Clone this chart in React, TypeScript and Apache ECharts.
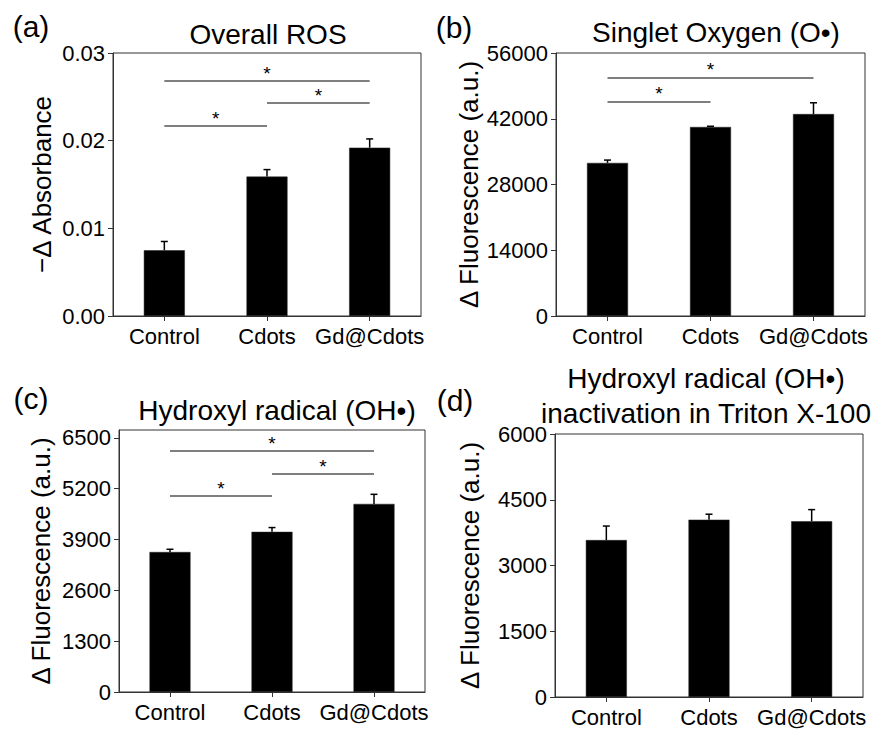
import React, { useEffect, useRef } from "react";
import * as echarts from "echarts";

const categories = ["Control", "Cdots", "Gd@Cdots"];

const rosMean = [0.0075, 0.0159, 0.0192];
const rosErr = [0.001, 0.0008, 0.001];
const rosTicks = [0, 0.01, 0.02, 0.03];
const rosTickLabels = ["0.00", "0.01", "0.02", "0.03"];
const rosSig = [
  [0, 2, 0.0268],
  [1, 2, 0.0243],
  [0, 1, 0.0217],
];

const singletMean = [32600, 40250, 43000];
const singletErr = [600, 150, 2400];
const singletTicks = [0, 14000, 28000, 42000, 56000];
const singletSig = [
  [0, 2, 50800],
  [0, 1, 45700],
];

const hydroxylMean = [3580, 4095, 4810];
const hydroxylErr = [70, 110, 245];
const hydroxylTicks = [0, 1300, 2600, 3900, 5200, 6500];
const hydroxylMax = 6700;
const hydroxylSig = [
  [0, 2, 6170],
  [1, 2, 5580],
  [0, 1, 5015],
];

const tritonMean = [3580, 4045, 4010];
const tritonErr = [320, 125, 265];
const tritonTicks = [0, 1500, 3000, 4500, 6000];

const FONT = "Arial, 'Liberation Sans', sans-serif";

const panels = [
  { mean: rosMean, err: rosErr, ticks: rosTicks, labels: rosTickLabels, max: 0.03, sig: rosSig, name: "\u2212\u0394 Absorbance", gap: 58, grid: { left: 113, top: 53, width: 308, height: 263 } },
  { mean: singletMean, err: singletErr, ticks: singletTicks, labels: null, max: 56000, sig: singletSig, name: "\u0394 Fluorescence (a.u.)", gap: 74, grid: { left: 556, top: 53, width: 309, height: 263 } },
  { mean: hydroxylMean, err: hydroxylErr, ticks: hydroxylTicks, labels: null, max: hydroxylMax, sig: hydroxylSig, name: "\u0394 Fluorescence (a.u.)", gap: 65, grid: { left: 119, top: 430, width: 306, height: 262 } },
  { mean: tritonMean, err: tritonErr, ticks: tritonTicks, labels: null, max: 6000, sig: [], name: "\u0394 Fluorescence (a.u.)", gap: 72, grid: { left: 555, top: 434, width: 308, height: 263 } },
];

export default function App() {
  const ref = useRef<HTMLDivElement>(null);
  useEffect(() => {
    document.body.style.margin = "0";
    const chart = echarts.init(ref.current!, null, { renderer: "svg" });
    const grids: any[] = [];
    const xAxes: any[] = [];
    const yAxes: any[] = [];
    const series: any[] = [];
    panels.forEach((p, i) => {
      grids.push({ ...p.grid, show: true, borderColor: "#333", borderWidth: 1, backgroundColor: "transparent" });
      xAxes.push({
        type: "category",
        gridIndex: i,
        data: categories,
        axisLine: { show: true, lineStyle: { color: "#333", width: 1 } },
        axisTick: { show: true, alignWithLabel: true, length: 5, lineStyle: { color: "#333" } },
        axisLabel: { color: "#000", fontSize: 22, fontFamily: FONT, margin: 9, interval: 0 },
        splitLine: { show: false },
      });
      const labels = p.labels;
      yAxes.push({
        type: "value",
        gridIndex: i,
        min: 0,
        max: p.max,
        name: p.name,
        nameLocation: "middle",
        nameGap: p.gap,
        nameRotate: 90,
        nameTextStyle: { color: "#000", fontSize: 26, fontFamily: FONT },
        axisLine: { show: true, lineStyle: { color: "#333", width: 1 } },
        axisTick: { show: true, length: 5, lineStyle: { color: "#333" }, customValues: p.ticks },
        axisLabel: {
          color: "#000",
          fontSize: 22,
          fontFamily: FONT,
          margin: 8,
          customValues: p.ticks,
          formatter: (v: number) => {
            if (labels) {
              const k = p.ticks.findIndex((t) => Math.abs(t - v) < 1e-9);
              return k >= 0 ? labels[k] : "";
            }
            return String(v);
          },
        },
        splitLine: { show: false },
      });
      series.push({
        type: "bar",
        xAxisIndex: i,
        yAxisIndex: i,
        data: p.mean,
        barWidth: 41,
        itemStyle: { color: "#000", borderColor: "#222", borderWidth: 0.5 },
        markLine: {
          silent: true,
          symbol: "none",
          lineStyle: { color: "#555", width: 1.5, type: "solid" },
          label: { show: true, position: "middle", formatter: "*", color: "#000", fontSize: 19, fontFamily: FONT, distance: -2 },
          emphasis: { disabled: true },
          data: p.sig.map((s) => [{ coord: [s[0], s[2]] }, { coord: [s[1], s[2]] }]),
        },
      });
      series.push({
        type: "custom",
        xAxisIndex: i,
        yAxisIndex: i,
        z: 5,
        data: p.mean.map((m, k) => [k, m, p.err[k]]),
        encode: { x: 0, y: 1 },
        renderItem: (params: any, api: any) => {
          const x = api.value(0);
          const m = api.value(1);
          const e = api.value(2);
          const p0 = api.coord([x, m]);
          const p1 = api.coord([x, m + e]);
          const style = { stroke: "#000", lineWidth: 1.5 };
          return {
            type: "group",
            children: [
              { type: "line", shape: { x1: p0[0], y1: p0[1], x2: p1[0], y2: p1[1] }, style },
              { type: "line", shape: { x1: p1[0] - 3.5, y1: p1[1], x2: p1[0] + 3.5, y2: p1[1] }, style },
            ],
          };
        },
      });
    });

    const textStyle = (text: string, size: number) => ({
      text,
      fontSize: size,
      fontFamily: FONT,
      fill: "#000",
      textAlign: "center",
      textVerticalAlign: "middle",
    });

    chart.setOption({
      animation: false,
      backgroundColor: "#fff",
      grid: grids,
      xAxis: xAxes,
      yAxis: yAxes,
      series,
      graphic: [
        { type: "text", x: 31, y: 26, style: textStyle("(a)", 30) },
        { type: "text", x: 454, y: 27, style: textStyle("(b)", 30) },
        { type: "text", x: 31, y: 398, style: textStyle("(c)", 30) },
        { type: "text", x: 455, y: 400, style: textStyle("(d)", 30) },
        { type: "text", x: 268, y: 34, style: textStyle("Overall ROS", 28) },
        { type: "text", x: 716, y: 32, style: textStyle("Singlet Oxygen (O\u2022)", 28) },
        { type: "text", x: 277, y: 410, style: textStyle("Hydroxyl radical (OH\u2022)", 28) },
        { type: "text", x: 706, y: 378, style: textStyle("Hydroxyl radical (OH\u2022)", 28) },
        { type: "text", x: 706, y: 413, style: textStyle("inactivation in Triton X-100", 28) },
      ],
    });
    return () => chart.dispose();
  }, []);
  return <div ref={ref} style={{ width: 872, height: 729 }} />;
}
